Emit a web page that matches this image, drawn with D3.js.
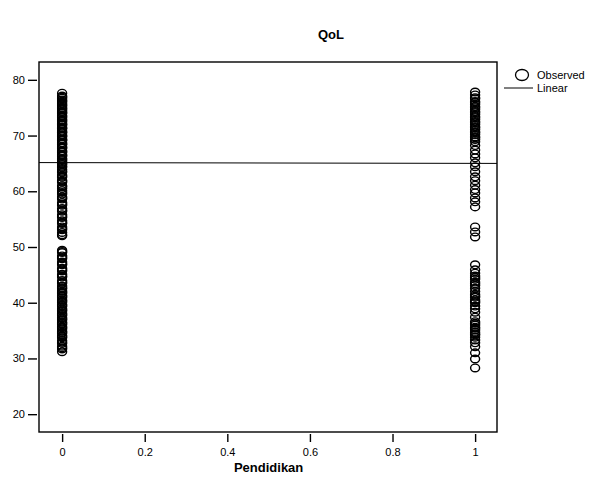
<!DOCTYPE html>
<html>
<head>
  <meta http-equiv="Content-Type" content="text/html;charset=utf-8">
  <title>QoL</title>
  <script src="https://cdn.jsdelivr.net/npm/d3@7"></script>
  <style>
    body { margin: 0; background: #fff; }
    text { font-family: "Liberation Sans", Arial, sans-serif; }
  </style>
</head>
<body>
<svg width="612" height="480"></svg>
<script>
// observed QoL, group Pendidikan = 0
var qolGroup0 = [77.6, 77.1, 76.9, 76.7, 76.4, 76.2, 76.0, 75.7, 75.5, 75.3, 75.0, 74.8, 74.6, 74.3,
  74.1, 74.0, 73.6, 73.4, 73.2, 72.9, 72.7, 72.5, 72.2, 72.0, 71.9, 71.5, 71.3, 71.2, 70.8, 70.6,
  70.5, 70.1, 69.9, 69.8, 69.4, 69.2, 69.1, 68.7, 68.5, 68.4, 68.0, 67.8, 67.7, 67.3, 67.1, 67.0,
  66.6, 66.4, 66.3, 65.9, 65.7, 65.5, 65.2, 65.0, 64.8, 64.5, 64.3, 63.9, 63.6, 63.4, 62.9, 62.7,
  62.5, 62.0, 61.8, 61.6, 61.0, 60.8, 60.5, 60.1, 59.8, 59.5, 59.0, 58.8, 58.6, 58.0, 57.7, 57.5,
  56.9, 56.6, 56.4, 55.8, 55.5, 55.3, 54.7, 54.4, 54.2, 53.6, 53.3, 53.1, 52.6, 52.2, 52.0,
  49.4, 49.2, 49.0, 48.4, 48.1, 47.9, 47.3, 47.0, 46.8, 46.2, 45.9, 45.7, 45.1, 44.8, 44.6, 44.0,
  43.7, 43.5, 43.0, 42.7, 42.5, 42.1, 41.9, 41.7, 41.3, 41.1, 40.9, 40.5, 40.3, 40.1, 39.7, 39.5,
  39.3, 38.9, 38.7, 38.5, 38.1, 37.9, 37.7, 37.3, 37.1, 36.9, 36.5, 36.3, 36.1, 35.7, 35.5, 35.3,
  34.9, 34.7, 34.5, 34.1, 33.9, 33.7, 33.2, 32.9, 32.7, 32.2, 31.9, 31.7, 31.2];
// observed QoL, group Pendidikan = 1
var qolGroup1 = [77.8, 77.3, 76.8, 76.6, 76.1, 75.9, 75.6, 75.2, 75.0, 74.7, 74.3, 74.1, 73.8,
  73.4, 73.2, 72.9, 72.5, 72.3, 72.0, 71.6, 71.4, 71.1, 70.7, 70.5, 70.2, 69.8, 69.6, 69.3, 68.9,
  68.2, 67.4, 66.7, 66.0, 65.1, 64.4, 63.5, 62.6, 61.9, 61.1, 60.3, 59.7, 58.8, 58.1, 57.2, 53.6,
  52.7, 51.8, 46.8, 45.9, 45.3, 44.8, 44.5, 44.2, 43.7, 43.4, 43.1, 42.6, 42.0, 41.5, 41.2, 41.0,
  40.5, 40.2, 40.0, 39.4, 38.9, 38.3, 37.4, 36.6, 36.3, 36.0, 35.6, 35.4, 35.1, 34.7, 34.4, 34.2,
  33.8, 33.3, 32.8, 32.1, 31.0, 29.9, 28.3];
var xTicks = [0, 0.2, 0.4, 0.6, 0.8, 1];
var yTicks = [20, 30, 40, 50, 60, 70, 80];
var linearFit = [{x: -0.056, y: 65.15}, {x: 1.053, y: 65.0}];

var svg = d3.select("svg");
var box = {left: 39, right: 497, top: 62, bottom: 432};

var x = d3.scaleLinear().domain([-0.056, 1.053]).range([box.left, box.right]);
var y = d3.scaleLinear().domain([16.8, 83.2]).range([box.bottom, box.top]);

// title
svg.append("text").attr("x", 331).attr("y", 39).attr("text-anchor", "middle")
  .style("font-size", "13px").style("font-weight", "bold").text("QoL");

// axes (offset a little from the frame, SPSS style)
var yAxis = svg.append("g").attr("transform", "translate(" + (box.left - 2) + ",0)")
  .call(d3.axisLeft(y).tickValues(yTicks).tickSize(9).tickPadding(3).tickFormat(d3.format("d")));
var xAxis = svg.append("g").attr("transform", "translate(0," + (box.bottom + 2) + ")")
  .call(d3.axisBottom(x).tickValues(xTicks).tickSize(8).tickPadding(6).tickFormat(function(d){ return d; }));
[yAxis, xAxis].forEach(function(a){
  a.select(".domain").remove();
  a.selectAll("line").attr("stroke", "#000").attr("stroke-width", 1.4);
  a.selectAll("text").style("font-size", "11px").attr("fill", "#000")
    .style("font-family", "'Liberation Sans', Arial, sans-serif");
});

svg.append("text").attr("x", x(0.5)).attr("y", 472).attr("text-anchor", "middle")
  .style("font-size", "13px").style("font-weight", "bold").text("Pendidikan");

// frame
svg.append("rect").attr("x", box.left).attr("y", box.top)
  .attr("width", box.right - box.left).attr("height", box.bottom - box.top)
  .attr("fill", "none").attr("stroke", "#000").attr("stroke-width", 1.4);

// points
var pts = qolGroup0.map(function(v){ return {x: 0, y: v}; })
  .concat(qolGroup1.map(function(v){ return {x: 1, y: v}; }));
svg.append("g").selectAll("ellipse").data(pts).enter().append("ellipse")
  .attr("cx", function(d){ return x(d.x); })
  .attr("cy", function(d){ return y(d.y); })
  .attr("rx", 4.5).attr("ry", 3.8)
  .attr("fill", "none").attr("stroke", "#000").attr("stroke-width", 1.4);

// linear fit
svg.append("path").datum(linearFit)
  .attr("d", d3.line().x(function(d){ return x(d.x); }).y(function(d){ return y(d.y); }))
  .attr("stroke", "#000").attr("stroke-width", 1).attr("fill", "none");

// legend
svg.append("ellipse").attr("cx", 522).attr("cy", 75).attr("rx", 6.5).attr("ry", 5.5)
  .attr("fill", "none").attr("stroke", "#000").attr("stroke-width", 1.3);
svg.append("text").attr("x", 537).attr("y", 79).style("font-size", "11px").text("Observed");
svg.append("line").attr("x1", 504).attr("x2", 533).attr("y1", 88).attr("y2", 88)
  .attr("stroke", "#000").attr("stroke-width", 1);
svg.append("text").attr("x", 537).attr("y", 92).style("font-size", "11px").text("Linear");
</script>
</body>
</html>
